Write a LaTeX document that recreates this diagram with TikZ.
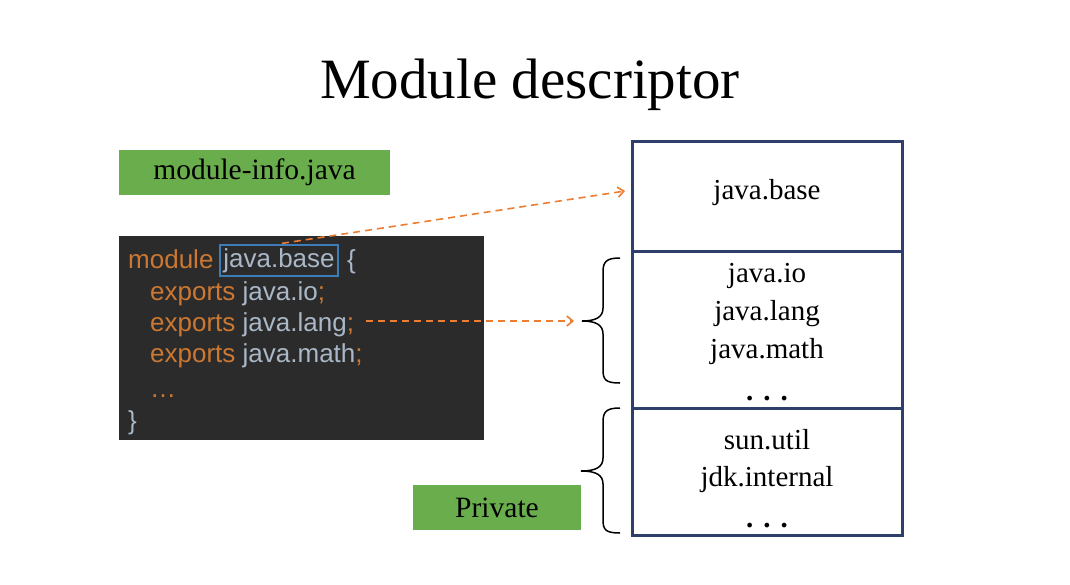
\documentclass[tikz,border=0pt]{standalone}
\usepackage{fontspec}
\setmainfont{Liberation Serif}
\newfontfamily\codefont{Liberation Sans}
\usetikzlibrary{arrows.meta}
\definecolor{boxgreen}{HTML}{6AAD4D}
\definecolor{codebg}{HTML}{2B2B2B}
\definecolor{kworange}{HTML}{CC7832}
\definecolor{idgray}{HTML}{A9B7C6}
\definecolor{selblue}{HTML}{3E7CB8}
\definecolor{linkorange}{HTML}{ED7D31}
\definecolor{cellnavy}{HTML}{2F3F6B}
\tikzset{
  label box/.style={fill=boxgreen, inner sep=0pt, font=\fontsize{29.5}{32}\selectfont},
  cell/.style={draw=cellnavy, line width=3pt, minimum width=270pt, inner sep=0pt},
  celltext/.style={font=\fontsize{29}{32}\selectfont, inner sep=0pt},
  codeline/.style={anchor=base west, inner sep=0pt, font=\codefont\fontsize{26}{30}\selectfont, text=idgray},
  link/.style={draw=linkorange, line width=1.6pt, dash pattern=on 7pt off 5pt,
    -{Straight Barb[length=6pt,width=10pt,line width=1.6pt]}},
  bracepath/.style={draw=black, line width=1.5pt}
}
\newcommand{\kw}[1]{\textcolor{kworange}{#1}}
\newcommand{\dotrow}{\textbf{.\hspace{10pt}.\hspace{10pt}.}}
\begin{document}
\begin{tikzpicture}[x=1pt,y=-1pt]
\useasboundingbox[fill=white] (0,0) rectangle (1070,584);

% title
\node[font=\fontsize{57}{60}\selectfont, inner sep=0pt, anchor=base] (title) at (530,98) {Module descriptor};

% green labels
\node[label box, minimum width=271pt, minimum height=45pt] (file) at (254.5,172.5) {module-info.java};
\node[label box, minimum width=168pt, minimum height=45pt] (private) at (497,507.5) {Private};

% code panel
\node[fill=codebg, minimum width=365pt, minimum height=204pt, inner sep=0pt] (code) at (301.5,338) {};
\node[codeline] (l1) at (128,268) {\kw{module}};
\node[draw=selblue, line width=1.3pt, minimum width=118pt, minimum height=31pt, inner sep=0pt,
      font=\codefont\fontsize{26}{30}\selectfont, text=idgray] (jb) at (279,260.5) {java.base};
\node[codeline] (brace1) at (347,268) {\{};
\node[codeline] (l2) at (150,300) {\kw{exports} java.io\kw{;}};
\node[codeline] (l3) at (150,331) {\kw{exports} java.lang\kw{;}};
\node[codeline] (l4) at (150,362) {\kw{exports} java.math\kw{;}};
\node[codeline] (l5) at (150,397) {\kw{\dots}};
\node[codeline] (l6) at (128,429) {\}};

% module cells
\node[cell, minimum height=110pt] (base) at (767,196) {};
\node[cell, minimum height=157pt] (exported) at (767,329.5) {};
\node[cell, minimum height=127pt] (internal) at (767,471.5) {};

\node[celltext] (tbase) at (767,193) {java.base};
\node[celltext] (tio) at (767,276) {java.io};
\node[celltext] (tlang) at (767,314) {java.lang};
\node[celltext] (tmath) at (767,352) {java.math};
\node[celltext, anchor=base] (tdots1) at (767,400) {\dotrow};
\node[celltext] (tutil) at (767,440) {sun.util};
\node[celltext] (tjdk) at (767,480) {jdk.internal};
\node[celltext, anchor=base] (tdots2) at (767,527) {\dotrow};

% braces
\draw[bracepath] (620,258) .. controls (606,258) and (603,262) .. (603,272)
  -- (603,308) .. controls (603,317) and (596,321) .. (582,321)
  .. controls (596,321) and (603,325) .. (603,334)
  -- (603,370) .. controls (603,380) and (606,383) .. (620,383);
\draw[bracepath] (620,408) .. controls (606,408) and (603,412) .. (603,422)
  -- (603,458) .. controls (603,467) and (596,471) .. (581,471)
  .. controls (596,471) and (603,475) .. (603,484)
  -- (603,520) .. controls (603,530) and (606,533) .. (620,533);

% links
\coordinate (bracetip) at (574,321);
\coordinate (baseleft) at (625,191);
\draw[link] (jb.north) ++(3,-1) -- (baseleft);
\draw[link] (l3.base east) ++(12,-10) -- (bracetip);
\end{tikzpicture}
\end{document}
